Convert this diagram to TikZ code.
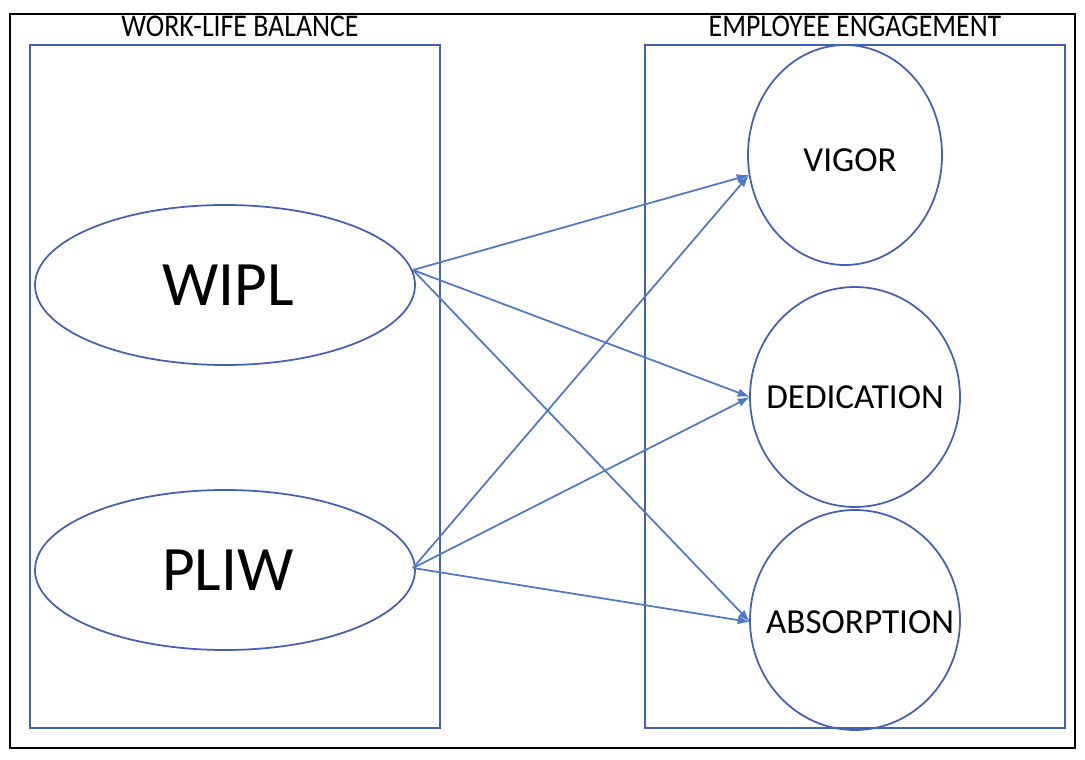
\documentclass[tikz,border=0pt]{standalone}
\usepackage{fontspec}
\setmainfont{Carlito}
\usetikzlibrary{arrows.meta}
\definecolor{bl}{RGB}{68,96,180}
\definecolor{ar}{RGB}{80,120,200}
\begin{document}
\begin{tikzpicture}[x=0.02cm,y=-0.02cm,
  box/.style={draw=bl,line width=1pt},
  ttl/.style={font=\fontsize{18}{20}\selectfont,xscale=0.88},
  conn/.style={draw=ar,line width=1pt,-{Latex[length=7pt,width=5pt]}}]
\useasboundingbox (0,0) rectangle (1085,760);
\draw[black,line width=0.8pt] (10,14) rectangle (1075,748);
\draw[box] (30,45) rectangle (440,728);
\draw[box] (645,45) rectangle (1065,728);
\node[ttl] (t1) at (240,26) {WORK-LIFE BALANCE};
\node[ttl] (t2) at (855,26) {EMPLOYEE ENGAGEMENT};
\draw[box] (225,285) ellipse (190 and 80);
\draw[box] (225,570) ellipse (190 and 80);
\node[font=\fontsize{36}{38}\selectfont] (wipl) at (228,285) {WIPL};
\node[font=\fontsize{36}{38}\selectfont] (pliw) at (228,570) {PLIW};
\coordinate (we) at (413,270);
\coordinate (pe) at (413,568);
\draw[box] (845,155) ellipse (97 and 110);
\draw[box] (855,397) ellipse (105 and 110);
\draw[box] (855,620) ellipse (105 and 110);
\node[font=\fontsize{20}{22}\selectfont] (vig) at (850,160) {VIGOR};
\node[font=\fontsize{20}{22}\selectfont] (ded) at (855,397) {DEDICATION};
\node[font=\fontsize{20}{22}\selectfont] (abs) at (860,622) {ABSORPTION};
\coordinate (vw) at (749,175);
\coordinate (dw) at (750,397);
\coordinate (aw) at (750,622);
\draw[conn] (we) -- (vw);
\draw[conn] (we) -- (dw);
\draw[conn] (we) -- (aw);
\draw[conn] (pe) -- (vw);
\draw[conn] (pe) -- (dw);
\draw[conn] (pe) -- (aw);
\end{tikzpicture}
\end{document}
